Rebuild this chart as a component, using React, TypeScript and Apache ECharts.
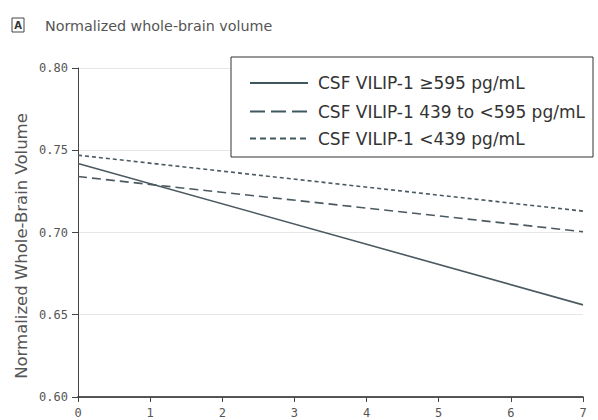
import React, { useEffect, useRef } from "react";
import * as echarts from "echarts";

const years = [0, 7];
const seriesNames = [
  "CSF VILIP-1 ≥595 pg/mL",
  "CSF VILIP-1 439 to <595 pg/mL",
  "CSF VILIP-1 <439 pg/mL",
];
const highValues = [0.742, 0.656];
const midValues = [0.734, 0.7005];
const lowValues = [0.747, 0.713];
const dashTypes: any[] = ["solid", [9, 5], [4, 3]];
const legendDash: any[] = [null, [15, 6], [6, 4]];

export default function App() {
  const ref = useRef<HTMLDivElement>(null);
  useEffect(() => {
    if (!ref.current) return;
    const chart = echarts.init(ref.current, null, { renderer: "svg" });
    const lineColor = "#4a5a60";
    const legendColor = "#3f5860";
    const data = [highValues, midValues, lowValues];
    const legendRows = [83, 111.5, 138.5];
    const legendGraphics: any[] = [];
    seriesNames.forEach((name, i) => {
      legendGraphics.push({
        type: "line",
        z: 20,
        shape: { x1: 250, y1: legendRows[i], x2: 308, y2: legendRows[i] },
        style: {
          stroke: legendColor,
          lineWidth: 2,
          lineDash: legendDash[i] || undefined,
        },
      });
      legendGraphics.push({
        type: "text",
        z: 20,
        x: 318,
        y: legendRows[i],
        style: {
          text: name,
          fontSize: 17,
          fontFamily: "DejaVu Sans",
          fill: "#333",
          verticalAlign: "middle",
        },
      });
    });
    chart.setOption({
      animation: false,
      backgroundColor: "#ffffff",
      grid: { left: 78, right: 15, top: 68, bottom: 23 },
      graphic: [
        {
          type: "rect",
          shape: { x: 12, y: 18, width: 12, height: 14 },
          style: { fill: "#fff", stroke: "#444", lineWidth: 1 },
        },
        {
          type: "text",
          x: 18,
          y: 25.5,
          style: {
            text: "A",
            fontSize: 10,
            fontWeight: "bold",
            fontFamily: "DejaVu Sans",
            fill: "#333",
            align: "center",
            verticalAlign: "middle",
          },
        },
        {
          type: "text",
          x: 45,
          y: 26,
          style: {
            text: "Normalized whole-brain volume",
            fontSize: 14.3,
            fontFamily: "DejaVu Sans",
            fill: "#555",
            verticalAlign: "middle",
          },
        },
        {
          type: "text",
          x: 21,
          y: 246,
          rotation: Math.PI / 2,
          style: {
            text: "Normalized Whole-Brain Volume",
            fontSize: 16.5,
            fontFamily: "DejaVu Sans",
            fill: "#555",
            align: "center",
            verticalAlign: "middle",
          },
        },
        {
          type: "rect",
          z: 10,
          shape: { x: 231, y: 57, width: 362, height: 100 },
          style: { fill: "#fff", stroke: "#333", lineWidth: 1 },
        },
        ...legendGraphics,
      ],
      xAxis: {
        type: "value",
        min: 0,
        max: 7,
        interval: 1,
        axisLine: { show: true, lineStyle: { color: "#222", width: 1.5 } },
        axisTick: { show: true, length: 5, lineStyle: { color: "#444" } },
        axisLabel: {
          fontSize: 12,
          fontFamily: "DejaVu Sans Mono",
          color: "#555",
          margin: 10,
        },
        splitLine: { show: false },
      },
      yAxis: {
        type: "value",
        min: 0.6,
        max: 0.8,
        interval: 0.05,
        axisLine: { show: true, lineStyle: { color: "#444", width: 1 } },
        axisTick: { show: true, length: 6, lineStyle: { color: "#444" } },
        axisLabel: {
          fontSize: 12,
          fontFamily: "DejaVu Sans Mono",
          color: "#555",
          margin: 10,
          formatter: (v: number) => v.toFixed(2),
        },
        splitLine: { show: true, lineStyle: { color: "#e6e6e6", width: 1 } },
      },
      series: seriesNames.map((name, i) => ({
        name,
        type: "line",
        symbol: "none",
        data: years.map((x, j) => [x, data[i][j]]),
        lineStyle: { color: lineColor, width: 1.6, type: dashTypes[i] },
        itemStyle: { color: lineColor },
      })),
    });
    return () => chart.dispose();
  }, []);
  return (
    <div
      ref={ref}
      style={{ position: "fixed", left: 0, top: 0, width: 598, height: 420 }}
    />
  );
}
